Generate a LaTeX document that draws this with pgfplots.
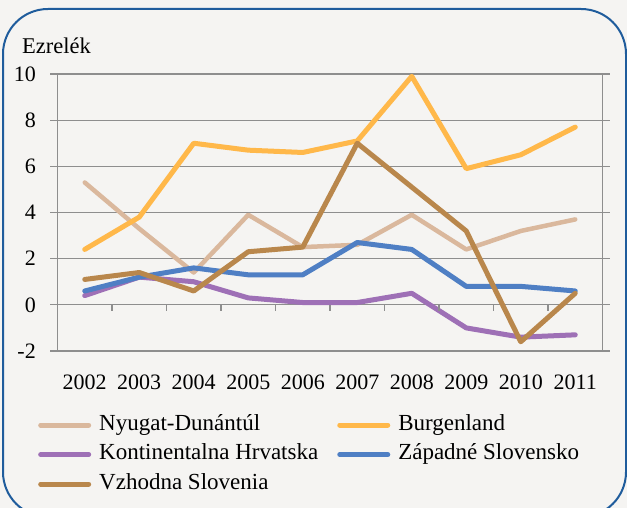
\documentclass[border=0pt]{standalone}
\usepackage{pgfplots}
\pgfplotsset{compat=1.18}
\usepackage{fontspec}
\setmainfont{Liberation Serif}
\definecolor{bgc}{HTML}{F5F4F2}
\definecolor{brd}{HTML}{1F5C9C}
\definecolor{gridc}{HTML}{8E8E8E}
\definecolor{cNyu}{HTML}{DAB89D}
\definecolor{cBur}{HTML}{FFB84A}
\definecolor{cKon}{HTML}{9E70B6}
\definecolor{cZap}{HTML}{4F7FC4}
\definecolor{cVzh}{HTML}{B9874C}
\begin{document}
\begin{tikzpicture}
\useasboundingbox (0pt,0pt) rectangle (627pt,508pt);
\fill[bgc] (0pt,0pt) rectangle (627pt,508pt);
\begin{scope}
\clip (0pt,0pt) rectangle (627pt,508pt);
\draw[brd, line width=2pt, rounded corners=45pt] (3pt,499pt) rectangle (626pt,-9pt);
\end{scope}
\node[anchor=base west, inner sep=0pt, font=\fontsize{22.5}{26}\selectfont] at (22pt,454pt) {Ezrelék};
\begin{axis}[
  at={(57.5pt,157pt)}, anchor=south west,
  scale only axis, width=545pt, height=277pt,
  xmin=-0.5, xmax=9.5, ymin=-2, ymax=10,
  axis line style={gridc, line width=1.3pt},
  ytick={-2,0,2,4,6,8,10},
  yticklabels={-2,0,2,4,6,8,10},
  xtick={0,...,9},
  xticklabels={2002,2003,2004,2005,2006,2007,2008,2009,2010,2011},
  x tick style={draw=none},
  y tick style={gridc, line width=1.3pt},
  tick align=outside,
  major tick length=7pt,
  ymajorgrids,
  grid style={gridc, line width=1.3pt},
  tick label style={font=\fontsize{22}{26}\selectfont},
  yticklabel style={anchor=east, inner sep=0pt, xshift=-14.5pt},
  xticklabel style={anchor=base, inner sep=0pt, yshift=-32pt},
  legend columns=2,
  legend cell align=left,
  legend style={at={(-0.0358,-0.227)}, anchor=north west, draw=none, fill=none,
    inner sep=0pt, row sep=7.5pt,
    font=\fontsize{23}{26}\selectfont,
    nodes={inner sep=0pt, text height=16pt, text depth=6pt},
    /tikz/every odd column/.append style={column sep=8pt},
    /tikz/every even column/.append style={column sep=19pt}},
  legend image code/.code={\draw[#1, line width=5pt, line cap=round] (2.5pt,0pt) -- (50.5pt,0pt);},
  every axis plot/.append style={line width=5pt, line join=round, line cap=round, mark=none},
]
\addplot[cNyu, line width=4.5pt] coordinates {(0,5.3)(1,3.3)(2,1.4)(3,3.9)(4,2.5)(5,2.6)(6,3.9)(7,2.4)(8,3.2)(9,3.7)};
\addlegendentry{Nyugat-Dunántúl}
\addplot[cBur] coordinates {(0,2.4)(1,3.8)(2,7.0)(3,6.7)(4,6.6)(5,7.1)(6,9.9)(7,5.9)(8,6.5)(9,7.7)};
\addlegendentry{Burgenland}
\addplot[cKon] coordinates {(0,0.4)(1,1.2)(2,1.0)(3,0.3)(4,0.1)(5,0.1)(6,0.5)(7,-1.0)(8,-1.4)(9,-1.3)};
\addlegendentry{Kontinentalna Hrvatska}
\addplot[cZap] coordinates {(0,0.6)(1,1.2)(2,1.6)(3,1.3)(4,1.3)(5,2.7)(6,2.4)(7,0.8)(8,0.8)(9,0.6)};
\addlegendentry{Západné Slovensko}
\addplot[cVzh] coordinates {(0,1.1)(1,1.4)(2,0.6)(3,2.3)(4,2.5)(5,7.0)(6,5.1)(7,3.2)(8,-1.6)(9,0.5)};
\addlegendentry{Vzhodna Slovenia}
\foreach \k in {0.5,1.5,...,9.5} {
  \edef\tmp{\noexpand\draw[gridc, line width=1.3pt] (axis cs:\k,0) -- ++(0pt,-6pt);}
  \tmp
}
\end{axis}
\end{tikzpicture}
\end{document}
